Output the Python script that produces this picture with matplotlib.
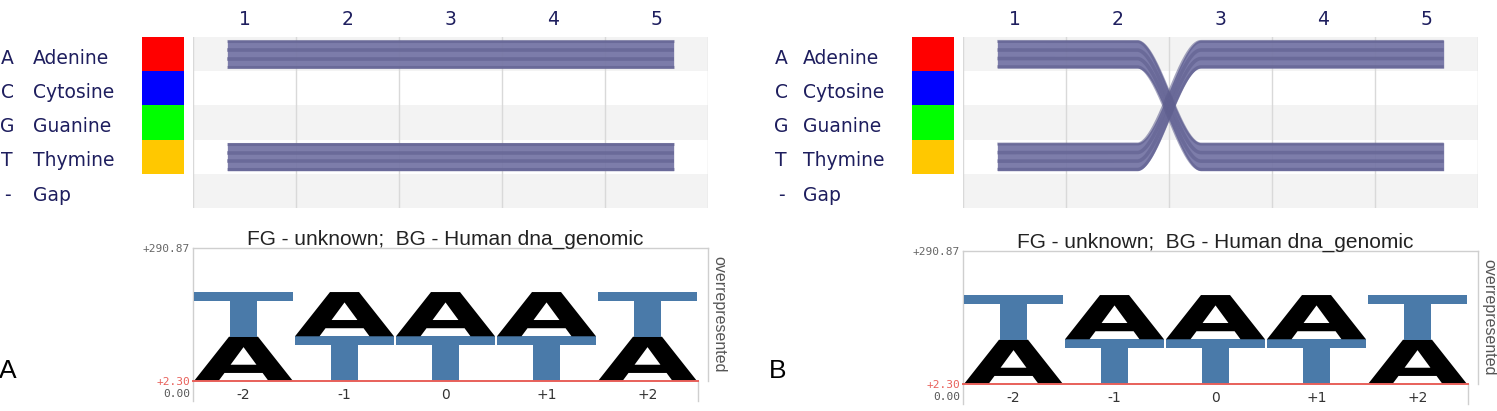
import numpy as np
import matplotlib.pyplot as plt
from matplotlib.textpath import TextPath
from matplotlib.font_manager import FontProperties
from matplotlib.patches import PathPatch
from matplotlib.transforms import Affine2D

W, H = 1497, 411

# nucleotide legend
codes = ["A", "C", "G", "T", "-"]
names = ["Adenine", "Cytosine", "Guanine", "Thymine", "Gap"]
box_colors = ["#ff0000", "#0000ff", "#00ff00", "#ffc800"]
columns = ["1", "2", "3", "4", "5"]

# row (0=A .. 4=Gap) taken by each sequence at each column
paths_a = [[0, 0, 0, 0, 0], [3, 3, 3, 3, 3]]
paths_b = [[0, 0, 3, 3, 3], [3, 3, 0, 0, 0]]

# sequence logo
logo_pos = ["-2", "-1", "0", "+1", "+2"]
lower_letter = ["A", "T", "T", "T", "A"]
lower_height = [96.0, 97.0, 97.0, 97.0, 96.0]
upper_letter = ["T", "A", "A", "A", "T"]
upper_height = [97.0, 96.0, 96.0, 96.0, 97.0]
y_lo, y_hi = 2.30, 290.87

letter_colors = {"A": "black", "T": "#4a7aa9"}
navy = "#1e1e5e"
letter_font = FontProperties(family="DejaVu Sans", weight="bold")


def px_axes(fig, x0, y0, x1, y1):
    return fig.add_axes([x0 / W, 1 - y1 / H, (x1 - x0) / W, (y1 - y0) / H])


def smooth(t):
    t = np.clip(t, 0, 1)
    return t * t * (3 - 2 * t)


def ribbon(ax, rows):
    x = np.linspace(0.5 - 1 / 6, len(rows) - 0.5 + 1 / 6, 600)
    yc = np.full_like(x, rows[0] + 0.5)
    for i in range(len(rows) - 1):
        b = i + 1
        yc = yc + (rows[i + 1] - rows[i]) * smooth((x - (b - 0.31)) / 0.62)
    half = 0.41
    ax.fill_between(x, yc - half, yc + half, color="#7676a6", alpha=0.95, lw=0, zorder=3)
    for off, lw in [(-0.37, 2.2), (-0.12, 2.6), (0.13, 2.6), (0.37, 2.2)]:
        ax.plot(x, yc + off, color="#5c5c8c", lw=lw, alpha=0.55, zorder=4,
                solid_capstyle="butt")


def draw_letter(ax, ch, xc, y0, w, h):
    tp = TextPath((0, 0), ch, size=1, prop=letter_font)
    bb = tp.get_extents()
    tr = (Affine2D().translate(-bb.x0, -bb.y0)
          .scale(w / bb.width, h / bb.height)
          .translate(xc - w / 2, y0))
    ax.add_patch(PathPatch(tr.transform_path(tp), color=letter_colors[ch], lw=0, zorder=3))


def draw_panel(fig, dx, dy, paths, letter_x, label):
    # labels column
    lab = px_axes(fig, dx, 37, dx + 142, 208)
    lab.set_xlim(0, 142)
    lab.set_ylim(5, 0)
    lab.axis("off")
    for i, (c, n) in enumerate(zip(codes, names)):
        lab.text(letter_x, i + 0.62, c, ha="center", va="center", fontsize=13.5, color=navy)
        lab.text(33, i + 0.62, n, ha="left", va="center", fontsize=13.5, color=navy)

    # colour boxes
    bx = px_axes(fig, dx + 142, 37, dx + 184, 208)
    bx.barh(np.arange(len(box_colors)) + 0.5, 1, height=1, color=box_colors)
    bx.set_xlim(0, 1)
    bx.set_ylim(5, 0)
    bx.axis("off")

    # alignment grid
    ax = px_axes(fig, dx + 193, 37, dx + 708, 208)
    ax.set_xlim(0, 5)
    ax.set_ylim(5, 0)
    for r in range(len(codes)):
        if r % 2 == 0:
            ax.axhspan(r, r + 1, color="#f3f3f3", lw=0, zorder=0)
    for c in range(len(columns) + 1):
        ax.axvline(c, color="#d9d9d9", lw=1, zorder=1)
    for rows in paths:
        ribbon(ax, rows)
    for s in ax.spines.values():
        s.set_visible(False)
    ax.xaxis.tick_top()
    ax.set_xticks(np.arange(len(columns)) + 0.5)
    ax.set_xticklabels(columns, fontsize=13.5, color=navy)
    ax.tick_params(axis="x", length=0, pad=6)
    ax.set_yticks([])

    # sequence logo
    lg = px_axes(fig, dx + 193, 248 + dy, dx + 708, 381 + dy)
    xr = 2.5 + 10 / 101
    lg.set_xlim(-2.5, xr)
    lg.set_ylim(y_lo, y_hi)
    for i in range(len(logo_pos)):
        xc = i - 2
        draw_letter(lg, lower_letter[i], xc, y_lo, 0.98, lower_height[i])
        draw_letter(lg, upper_letter[i], xc, y_lo + lower_height[i], 0.98, upper_height[i])
    lg.plot([-2.5, 2.5], [y_lo, y_lo], color="#e8605a", lw=1.4, zorder=4, clip_on=False)
    for side in ["left", "top", "right"]:
        lg.spines[side].set_color("#cfcfcf")
        lg.spines[side].set_linewidth(1)
    lg.spines["bottom"].set_visible(False)
    frac = 5 / (xr + 2.5)
    lg.plot([0, 0], [0, -0.15], transform=lg.transAxes, color="#cfcfcf", lw=1, clip_on=False)
    lg.plot([frac, frac], [0, -0.15], transform=lg.transAxes, color="#cfcfcf", lw=1, clip_on=False)
    lg.set_xticks(range(-2, 3))
    lg.set_xticklabels(logo_pos, fontsize=10, color="#333333")
    lg.tick_params(axis="x", length=0, pad=5)
    lg.set_yticks([y_lo, y_hi])
    lg.set_yticklabels(["+2.30", "+290.87"], family="DejaVu Sans Mono", fontsize=8)
    lg.get_yticklabels()[0].set_color("#e8605a")
    lg.get_yticklabels()[1].set_color("#666666")
    lg.tick_params(axis="y", length=0, pad=2)
    lg.text(-0.005, -0.095, "0.00", transform=lg.transAxes, ha="right", va="center",
            family="DejaVu Sans Mono", fontsize=8, color="#555555")
    lg.text(0.49, 1.065, "FG - unknown;  BG - Human dna_genomic", transform=lg.transAxes,
            ha="center", va="center", family="Liberation Sans", fontsize=15, color="#222222")
    lg.text(1.022, 0.5, "overrepresented", transform=lg.transAxes, rotation=270,
            ha="center", va="center", family="Liberation Sans", fontsize=11.5, color="#555555")

    fig.text((dx + 8) / W, 1 - 371 / H, label, ha="center", va="center",
             family="Liberation Sans", fontsize=19, color="black")


fig = plt.figure(figsize=(W / 100, H / 100), dpi=100)
draw_panel(fig, 0, 0, paths_a, 7, "A")
draw_panel(fig, 770, 3, paths_b, 11, "B")
fig.savefig("out.png", dpi=100)
